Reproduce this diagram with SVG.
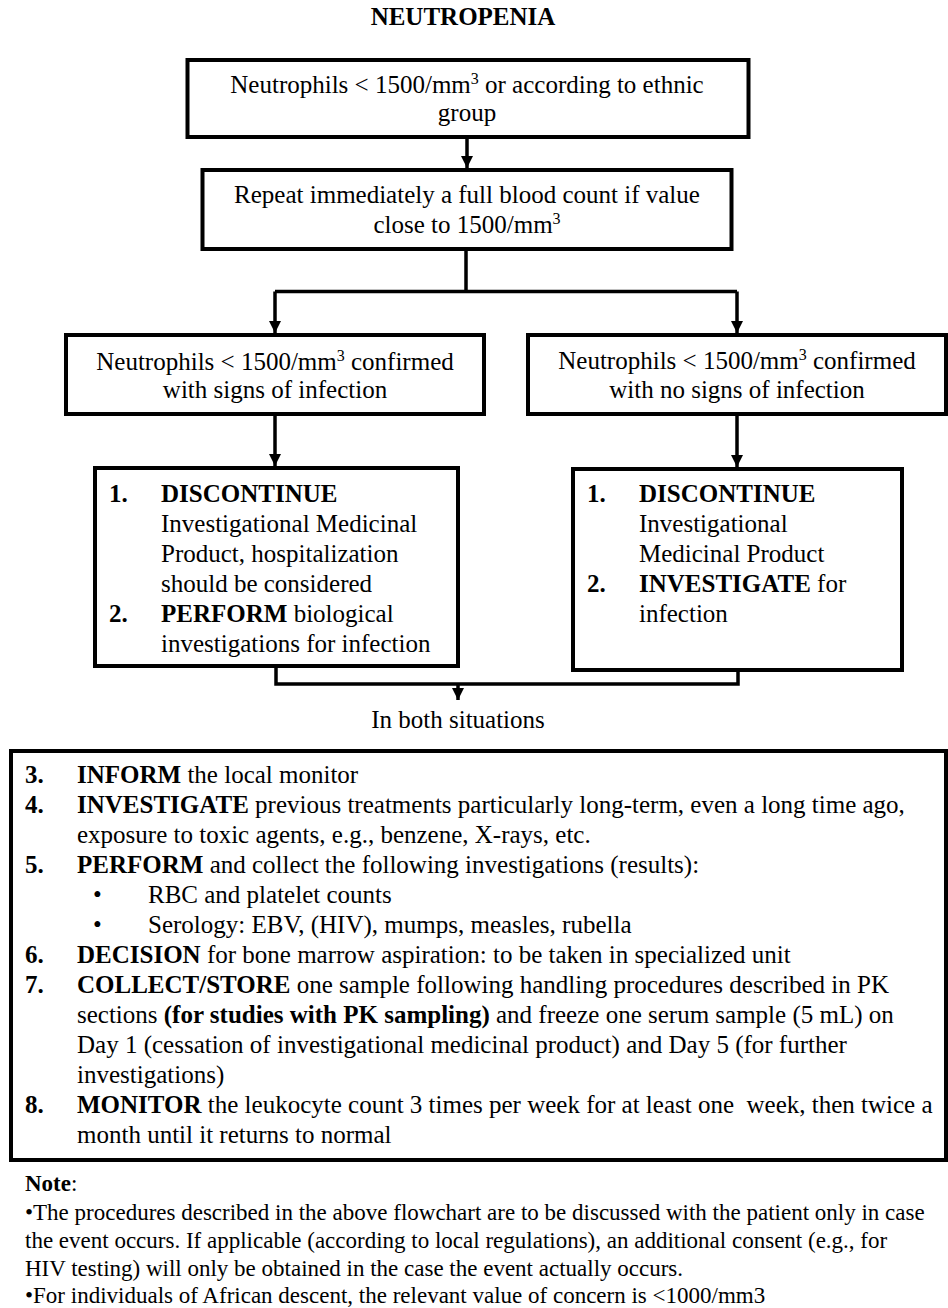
<svg xmlns="http://www.w3.org/2000/svg" width="948" height="1308" viewBox="0 0 948 1308">
<style>
text{font-family:'Liberation Serif',serif;font-size:25px;font-weight:normal;fill:#000}
.b{font-weight:bold}
.c{text-anchor:middle}
.n{font-size:23px}
.box{fill:#fff;stroke:#000;stroke-width:4}
.ln{fill:none;stroke:#000;stroke-width:3.5}
.sup{font-size:16px}
</style>
<defs>
<marker id="ah" markerUnits="userSpaceOnUse" viewBox="0 0 12 12" markerWidth="12" markerHeight="12" refX="12" refY="6" orient="auto">
<path d="M0,0 L12,6 L0,12 z" fill="#000"/>
</marker>
</defs>
<rect width="948" height="1308" fill="#fff"/>
<text id="title" class="b c" x="463" y="25" font-size="23">NEUTROPENIA</text>

<g id="connectors">
<path class="ln" d="M467,139 V168" marker-end="url(#ah)"/>
<path class="ln" d="M466,251 V291.5 M275,291.5 H737"/>
<path class="ln" d="M275,291.5 V333" marker-end="url(#ah)"/>
<path class="ln" d="M737,291.5 V333" marker-end="url(#ah)"/>
<path class="ln" d="M275,416 V466" marker-end="url(#ah)"/>
<path class="ln" d="M737,416 V467" marker-end="url(#ah)"/>
<path class="ln" d="M276,668 V684 H738 V672"/>
<path class="ln" d="M458,684 V700" marker-end="url(#ah)"/>
</g>

<g id="n1">
<rect class="box" x="187.5" y="60" width="561" height="77"/>
<text class="c" x="467" y="93">Neutrophils &lt; 1500/mm<tspan class="sup" dy="-9">3</tspan><tspan dy="9"> or according to ethnic</tspan></text>
<text class="c" x="467" y="121">group</text>
</g>

<g id="n2">
<rect class="box" x="202.5" y="170" width="529" height="79"/>
<text class="c" x="467" y="203">Repeat immediately a full blood count if value</text>
<text class="c" x="467" y="233">close to 1500/mm<tspan class="sup" dy="-9">3</tspan></text>
</g>

<g id="n3">
<rect class="box" x="66" y="335" width="418" height="79"/>
<text class="c" x="275" y="370">Neutrophils &lt; 1500/mm<tspan class="sup" dy="-9">3</tspan><tspan dy="9"> confirmed</tspan></text>
<text class="c" x="275" y="398">with signs of infection</text>
</g>

<g id="n4">
<rect class="box" x="528" y="335" width="418" height="79"/>
<text class="c" x="737" y="369">Neutrophils &lt; 1500/mm<tspan class="sup" dy="-9">3</tspan><tspan dy="9"> confirmed</tspan></text>
<text class="c" x="737" y="398">with no signs of infection</text>
</g>

<g id="n5">
<rect class="box" x="95" y="468" width="363" height="198"/>
<text class="b" x="109" y="502">1.</text>
<text class="b" x="161" y="502">DISCONTINUE</text>
<text x="161" y="532">Investigational Medicinal</text>
<text x="161" y="562">Product, hospitalization</text>
<text x="161" y="592">should be considered</text>
<text class="b" x="109" y="622">2.</text>
<text x="161" y="622"><tspan class="b">PERFORM</tspan> biological</text>
<text x="161" y="652">investigations for infection</text>
</g>

<g id="n6">
<rect class="box" x="573" y="469" width="329" height="201"/>
<text class="b" x="587" y="502">1.</text>
<text class="b" x="639" y="502">DISCONTINUE</text>
<text x="639" y="532">Investigational</text>
<text x="639" y="562">Medicinal Product</text>
<text class="b" x="587" y="592">2.</text>
<text x="639" y="592"><tspan class="b">INVESTIGATE</tspan> for</text>
<text x="639" y="622">infection</text>
</g>

<text id="both" class="c" x="458" y="728" font-size="22">In both situations</text>

<g id="n7">
<rect class="box" x="11" y="751" width="935" height="409"/>
<text class="b" x="25" y="783">3.</text>
<text x="77" y="783"><tspan class="b">INFORM</tspan> the local monitor</text>
<text class="b" x="25" y="813">4.</text>
<text x="77" y="813"><tspan class="b">INVESTIGATE</tspan> previous treatments particularly long-term, even a long time ago,</text>
<text x="77" y="843">exposure to toxic agents, e.g., benzene, X-rays, etc.</text>
<text class="b" x="25" y="873">5.</text>
<text x="77" y="873"><tspan class="b">PERFORM</tspan> and collect the following investigations (results):</text>
<text x="93" y="903">•</text>
<text x="148" y="903">RBC and platelet counts</text>
<text x="93" y="933">•</text>
<text x="148" y="933">Serology: EBV, (HIV), mumps, measles, rubella</text>
<text class="b" x="25" y="963">6.</text>
<text x="77" y="963"><tspan class="b">DECISION</tspan> for bone marrow aspiration: to be taken in specialized unit</text>
<text class="b" x="25" y="993">7.</text>
<text x="77" y="993"><tspan class="b">COLLECT/STORE</tspan> one sample following handling procedures described in PK</text>
<text x="77" y="1023">sections <tspan class="b">(for studies with PK sampling)</tspan> and freeze one serum sample (5 mL) on</text>
<text x="77" y="1053">Day 1 (cessation of investigational medicinal product) and Day 5 (for further</text>
<text x="77" y="1083">investigations)</text>
<text class="b" x="25" y="1113">8.</text>
<text x="77" y="1113" xml:space="preserve"><tspan class="b">MONITOR</tspan> the leukocyte count 3 times per week for at least one  week, then twice a</text>
<text x="77" y="1143">month until it returns to normal</text>
</g>

<g id="note">
<text class="n" x="25" y="1191"><tspan class="b">Note</tspan>:</text>
<text class="n" x="25" y="1220">•The procedures described in the above flowchart are to be discussed with the patient only in case</text>
<text class="n" x="25" y="1248">the event occurs. If applicable (according to local regulations), an additional consent (e.g., for</text>
<text class="n" x="25" y="1276">HIV testing) will only be obtained in the case the event actually occurs.</text>
<text class="n" x="25" y="1303">•For individuals of African descent, the relevant value of concern is &lt;1000/mm3</text>
</g>
</svg>
